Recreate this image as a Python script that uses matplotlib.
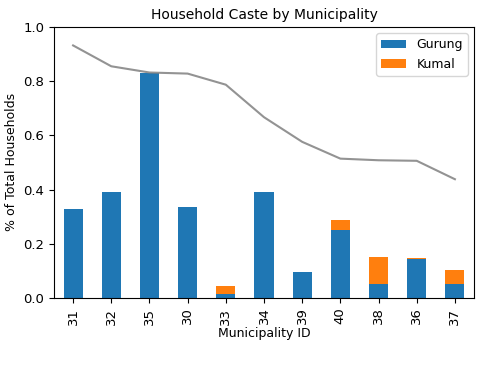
import numpy as np
import matplotlib
matplotlib.use("Agg")
from matplotlib import pyplot as plt

muni_ids = ["31", "32", "35", "30", "33", "34", "39", "40", "38", "36", "37"]
gurung = [0.327, 0.389, 0.832, 0.337, 0.015, 0.389, 0.097, 0.25, 0.05, 0.142, 0.05]
kumal = [0.0, 0.0, 0.0, 0.0, 0.028, 0.0, 0.0, 0.036, 0.101, 0.004, 0.052]
total_line = [0.932, 0.855, 0.832, 0.828, 0.787, 0.667, 0.576, 0.514, 0.508, 0.506, 0.438]

fig = plt.figure(figsize=(5, 3.65), dpi=100)
ax = fig.add_axes([0.108, 0.184, 0.84, 0.742])

x = np.arange(len(muni_ids))
ax.bar(x, gurung, width=0.5, color="#1f77b4", label="Gurung")
ax.bar(x, kumal, width=0.5, bottom=gurung, color="#ff7f0e", label="Kumal")
ax.plot(x, total_line, color="gray", alpha=0.85, lw=1.5)

ax.set_xticks(x)
ax.set_xticklabels(muni_ids, rotation=90)
ax.tick_params(labelsize=9.5)
ax.set_xlim(-0.5, len(muni_ids) - 0.5)
ax.set_ylim(0, 1.0)
ax.set_title("Household Caste by Municipality", fontsize=10)
ax.set_xlabel("Municipality ID", fontsize=9, labelpad=2)
ax.set_ylabel("% of Total Households", fontsize=9)
ax.legend(loc="upper right", fontsize=9)

plt.savefig("out.png", dpi=100)
